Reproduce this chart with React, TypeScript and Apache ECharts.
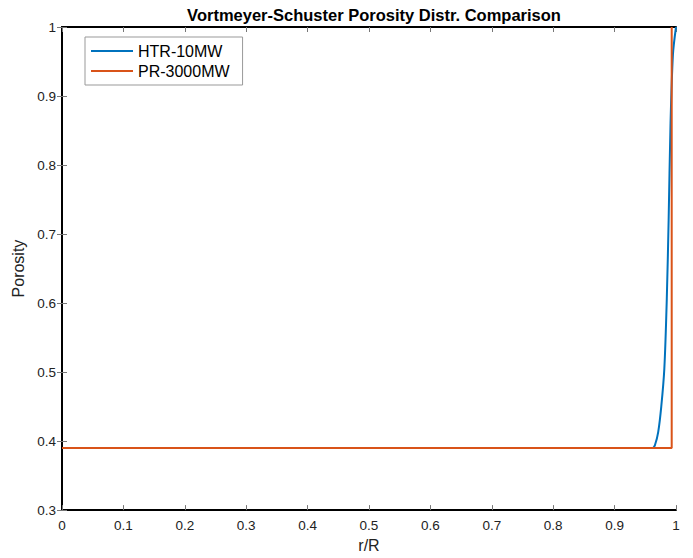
import React, { useEffect, useRef } from "react";
import * as echarts from "echarts";

const titleText = "Vortmeyer-Schuster Porosity Distr. Comparison";
const seriesNames = ["HTR-10MW", "PR-3000MW"];
const htrX = [0, 0.962, 0.966, 0.971, 0.976, 0.981, 0.985, 0.988, 0.991, 0.995, 1];
const htrY = [0.39, 0.39, 0.395, 0.413, 0.45, 0.505, 0.606, 0.72, 0.857, 0.96, 1];
const prX = [0, 0.993, 0.993];
const prY = [0.39, 0.39, 1];
const colors = ["#0072BD", "#D95319"];

const FONT = "Liberation Sans, Arial, Helvetica, sans-serif";

export default function App() {
  const ref = useRef<HTMLDivElement>(null);
  useEffect(() => {
    if (!ref.current) return;
    const chart = echarts.init(ref.current, null, { renderer: "svg" });
    const tickStyle = { show: true, inside: true, length: 5, lineStyle: { color: "#777", width: 1 } };
    const lineStyle = { show: true, lineStyle: { color: "#000", width: 2 } };
    chart.setOption({
      animation: false,
      backgroundColor: "#fff",
      title: {
        text: titleText,
        left: 369,
        textAlign: "center",
        top: 1,
        textStyle: { fontFamily: FONT, fontSize: 16.5, fontWeight: "bold", color: "#000" },
      },
      legend: {
        show: true,
        left: 85,
        top: 37,
        orient: "vertical",
        itemWidth: 42,
        itemHeight: 2,
        itemGap: 4,
        padding: [6, 13, 6, 6],
        borderColor: "#999",
        borderWidth: 1,
        backgroundColor: "#fff",
        icon: "rect",
        textStyle: { fontFamily: FONT, fontSize: 16, color: "#000", padding: [0, 0, 0, 0] },
        data: seriesNames,
      },
      grid: { left: 62, right: 17, top: 27, bottom: 46 },
      xAxis: [
        {
          type: "value",
          min: 0,
          max: 1,
          interval: 0.1,
          position: "bottom",
          name: "r/R",
          nameLocation: "middle",
          nameGap: 26,
          nameTextStyle: { fontFamily: FONT, fontSize: 16, color: "#222" },
          axisLine: lineStyle,
          axisTick: tickStyle,
          axisLabel: { fontFamily: FONT, fontSize: 13.5, color: "#222", margin: 8 },
          splitLine: { show: false },
        },
        {
          type: "value",
          min: 0,
          max: 1,
          interval: 0.1,
          position: "top",
          axisLine: lineStyle,
          axisTick: tickStyle,
          axisLabel: { show: false },
          splitLine: { show: false },
        },
      ],
      yAxis: [
        {
          type: "value",
          min: 0.3,
          max: 1,
          interval: 0.1,
          position: "left",
          name: "Porosity",
          nameLocation: "middle",
          nameGap: 35,
          nameTextStyle: { fontFamily: FONT, fontSize: 16, color: "#222" },
          axisLine: lineStyle,
          axisTick: tickStyle,
          axisLabel: { fontFamily: FONT, fontSize: 13.5, color: "#222", margin: 6 },
          splitLine: { show: false },
        },
        {
          type: "value",
          min: 0.3,
          max: 1,
          interval: 0.1,
          position: "right",
          axisLine: lineStyle,
          axisTick: tickStyle,
          axisLabel: { show: false },
          splitLine: { show: false },
        },
      ],
      series: [
        {
          name: seriesNames[0],
          type: "line",
          data: htrX.map((x, i) => [x, htrY[i]]),
          showSymbol: false,
          smooth: 0.3,
          color: colors[0],
          lineStyle: { width: 2, color: colors[0] },
          z: 2,
        },
        {
          name: seriesNames[1],
          type: "line",
          data: prX.map((x, i) => [x, prY[i]]),
          showSymbol: false,
          color: colors[1],
          lineStyle: { width: 2, color: colors[1] },
          z: 3,
        },
      ],
    });
    return () => chart.dispose();
  }, []);
  return <div ref={ref} style={{ width: 693, height: 558, position: "absolute", left: 0, top: 0 }} />;
}
